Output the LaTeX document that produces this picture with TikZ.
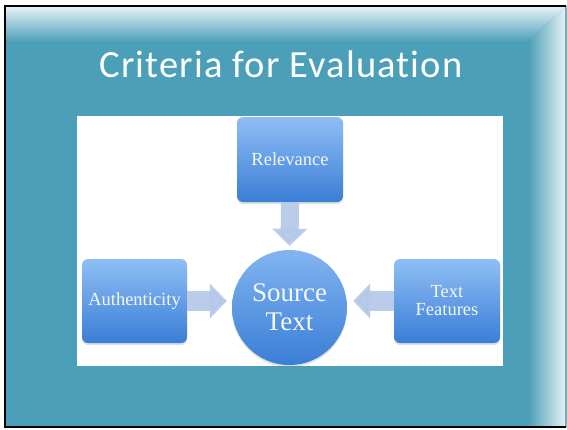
\documentclass[tikz,border=0pt]{standalone}
\usepackage{fontspec}
\setmainfont{Liberation Serif}
\newfontfamily\titlefont[LetterSpace=3,Ligatures=NoCommon]{Carlito}
\usetikzlibrary{shadows,arrows.meta}
\definecolor{teal1}{HTML}{4B9FB8}
\definecolor{bevlight}{HTML}{E4F0F3}
\definecolor{boxtop}{HTML}{8FBEF5}
\definecolor{boxbot}{HTML}{3A7ED6}
\definecolor{arrcol}{HTML}{B2C8E8}
\definecolor{txtcol}{HTML}{F4F7FC}
\tikzset{
  boxnode/.style={rectangle, rounded corners=6pt, top color=boxtop, bottom color=boxbot,
    text=txtcol, font=\fontsize{18.5}{20}\selectfont, align=center,
    drop shadow={opacity=0.25, shadow xshift=0pt, shadow yshift=-2pt}},
  circnode/.style={circle, top color=boxtop!85!boxbot, bottom color=boxbot, text=txtcol,
    font=\fontsize{27}{29}\selectfont, align=center, minimum size=115pt, inner sep=0pt,
    drop shadow={opacity=0.25, shadow xshift=0pt, shadow yshift=-2pt}},
  bigarrow/.style={draw=arrcol, opacity=0.9, -{Triangle[width=34pt,length=17pt]}}
}
\begin{document}
\begin{tikzpicture}[x=1pt,y=-1pt]
\useasboundingbox (0,0) rectangle (567,429);
\fill[white] (0,0) rectangle (567,429);
% slide background
\fill[teal1] (5,6) rectangle (566,427);
% bevels
\shade[top color=bevlight, bottom color=teal1] (5,7) -- (565,7) -- (528,42) -- (5,42) -- cycle;
\shade[left color=teal1, right color=bevlight] (528,42) -- (565,7) -- (565,426) -- (528,426) -- cycle;
% frame
\draw[black, line width=2pt] (566,6) -- (5,6) -- (5,427) -- (566,427);
\draw[gray!70, line width=1pt] (566,6) -- (566,427);
% title
\node[font=\titlefont\fontsize{38.5}{42}\selectfont, text=white] (title) at (281,64) {Criteria for Evaluation};
% picture area
\fill[white] (77,116) rectangle (503,366);
% nodes
\node[boxnode, minimum width=106pt, minimum height=85pt] (rel) at (290,159.5) {Relevance};
\node[boxnode, minimum width=105pt, minimum height=84pt] (auth) at (134.5,301) {Authenticity};
\node[boxnode, minimum width=106pt, minimum height=84pt] (tf) at (447,301) {Text\\[-2pt]Features};
\node[circnode] (src) at (289.5,307.5) {Source\\Text};
% connectors
\draw[bigarrow, line width=18pt, shorten >=4pt] (rel.south) -- (src.north);
\draw[bigarrow, line width=20pt, shorten >=5pt] (auth.east) -- (auth.east -| src.west);
\draw[bigarrow, line width=20pt, shorten >=6pt] (tf.west) -- (tf.west -| src.east);
\end{tikzpicture}
\end{document}
